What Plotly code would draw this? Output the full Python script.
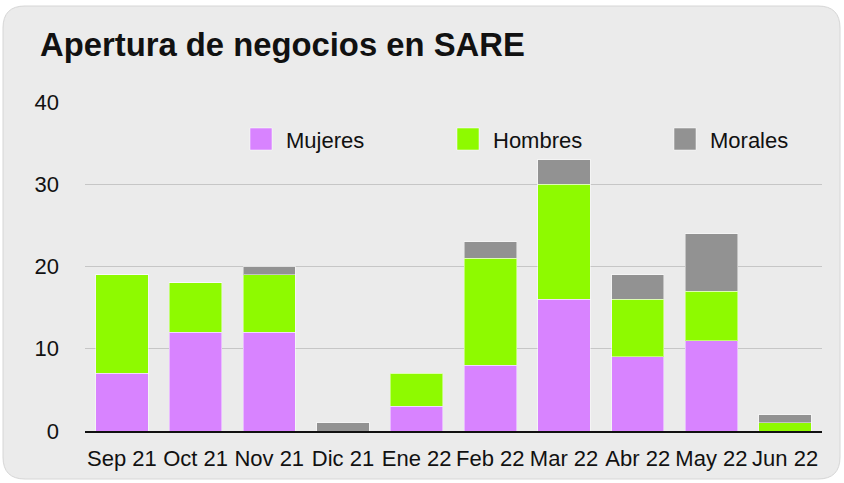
import plotly.graph_objects as go

categories = ["Sep 21", "Oct 21", "Nov 21", "Dic 21", "Ene 22",
              "Feb 22", "Mar 22", "Abr 22", "May 22", "Jun 22"]
mujeres = [7, 12, 12, 0, 3, 8, 16, 9, 11, 0]
hombres = [12, 6, 7, 0, 4, 13, 14, 7, 6, 1]
morales = [0, 0, 1, 1, 0, 2, 3, 3, 7, 1]
series_names = ["Mujeres", "Hombres", "Morales"]
y_ticks = [0, 10, 20, 30, 40]

colors = ["#d883ff", "#8efa00", "#929292"]
FONT = "Liberation Sans, Arial, Helvetica, sans-serif"

W, H = 844, 483
L, R, T, B = 85, 822, 102, 431


def px(x):
    return (x - L) / (R - L)


def py(y):
    return (B - y) / (B - T)


fig = go.Figure()
for name, vals, col in zip(series_names, [mujeres, hombres, morales], colors):
    fig.add_trace(go.Bar(
        x=categories, y=vals, name=name,
        marker=dict(color=col, line=dict(color="rgba(255,255,255,0.45)", width=1)),
        showlegend=False,
    ))

# card background (rounded rectangle)
x0, x1, y0, y1, r = 3, 840, 6, 479, 22
path = (f"M {px(x0 + r)} {py(y0)} L {px(x1 - r)} {py(y0)} "
        f"Q {px(x1)} {py(y0)} {px(x1)} {py(y0 + r)} "
        f"L {px(x1)} {py(y1 - r)} Q {px(x1)} {py(y1)} {px(x1 - r)} {py(y1)} "
        f"L {px(x0 + r)} {py(y1)} Q {px(x0)} {py(y1)} {px(x0)} {py(y1 - r)} "
        f"L {px(x0)} {py(y0 + r)} Q {px(x0)} {py(y0)} {px(x0 + r)} {py(y0)} Z")
shapes = [dict(type="path", path=path, xref="paper", yref="paper",
               fillcolor="#ebebeb", line=dict(color="#d6d6d6", width=1), layer="below")]

# legend (manual, to match large swatches)
legend_x = [250, 457, 674]
annotations = []
for lx, name, col in zip(legend_x, series_names, colors):
    shapes.append(dict(type="rect", xref="paper", yref="paper",
                       x0=px(lx), x1=px(lx + 22), y0=py(150), y1=py(128),
                       fillcolor=col, line=dict(color="rgba(255,255,255,0.5)", width=1),
                       layer="above"))
    annotations.append(dict(text=name, xref="paper", yref="paper",
                            x=px(lx + 34), y=py(140), xanchor="left", yanchor="middle",
                            showarrow=False, font=dict(size=22, color="#111111", family=FONT)))

fig.update_layout(
    width=W, height=H,
    margin=dict(l=L, r=W - R, t=T, b=H - B, pad=0),
    paper_bgcolor="white",
    plot_bgcolor="rgba(0,0,0,0)",
    barmode="stack",
    bargap=0.29,
    title=dict(text="<b>Apertura de negocios en SARE</b>", x=40 / W, xanchor="left",
               y=1 - 45 / H, yanchor="middle", yref="container",
               font=dict(size=32.8, color="#111111", family=FONT)),
    font=dict(family=FONT, size=22, color="#111111"),
    shapes=shapes,
    annotations=annotations,
    xaxis=dict(showgrid=False, showline=True, linecolor="#111111", linewidth=2,
               ticks="", tickfont=dict(size=22), ticklabelstandoff=7),
    yaxis=dict(range=[0, 40], tickvals=y_ticks, showgrid=True, gridcolor="#c6c6c6",
               gridwidth=1, zeroline=False, showline=False, ticks="",
               tickfont=dict(size=22), ticklabelstandoff=25),
)

fig.write_html("out.html", config={"displayModeBar": False},
               post_script="document.body.style.margin='0';")
